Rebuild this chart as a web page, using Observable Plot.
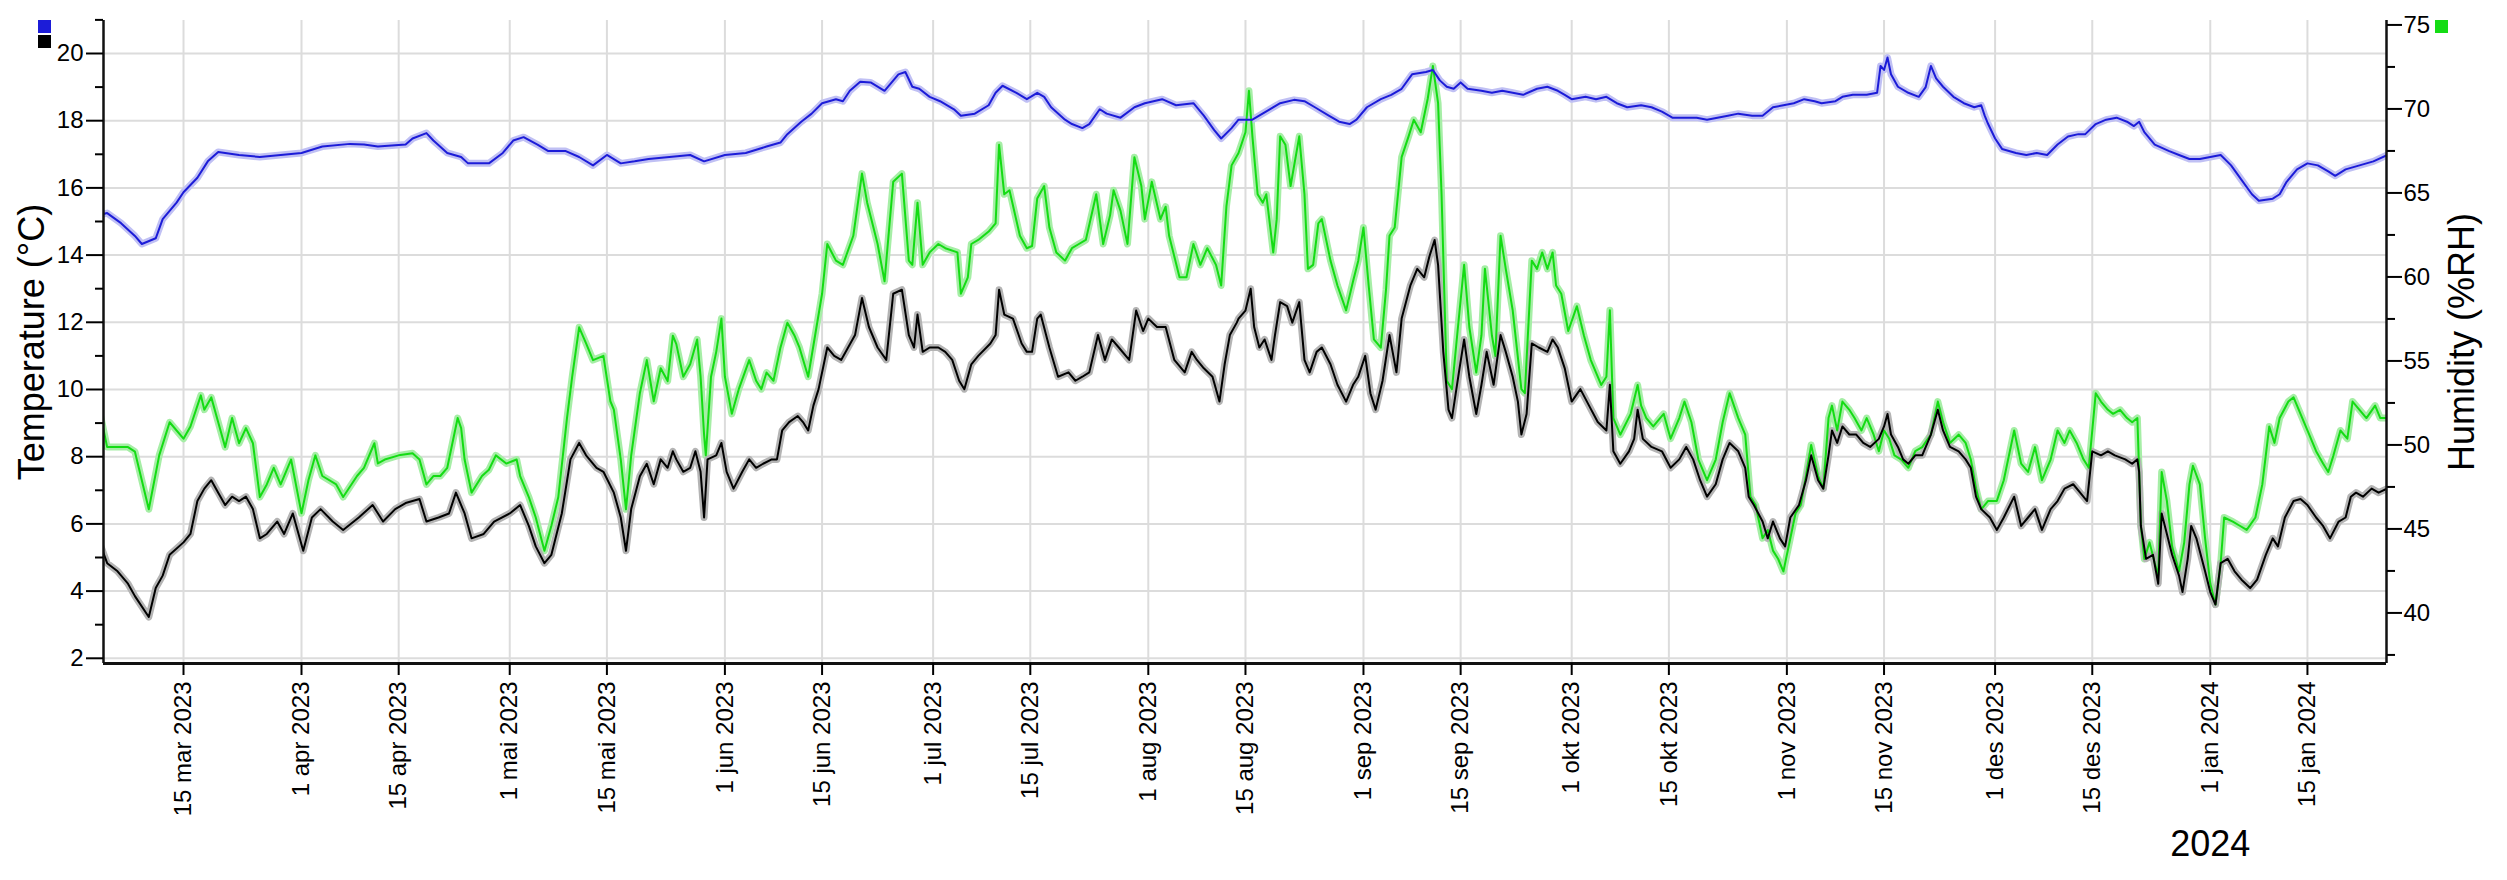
<!DOCTYPE html>
<html>
<head>
<meta charset="utf-8">
<script src="https://cdn.jsdelivr.net/npm/d3@7"></script>
<script src="https://cdn.jsdelivr.net/npm/@observablehq/plot@0.6"></script>
<style>
  html, body { margin: 0; padding: 0; background: #fff; overflow: hidden; }
  #wrap { position: relative; width: 2507px; height: 880px; }
  .sq { position: absolute; width: 13px; height: 13px; }
</style>
</head>
<body>
<div id="wrap"></div>
<script>
// ---------- data ----------
const monthNames = ["jan","feb","mar","apr","mai","jun","jul","aug","sep","okt","nov","des"];
const xTickDates = ["2023-03-15","2023-04-01","2023-04-15","2023-05-01","2023-05-15","2023-06-01","2023-06-15","2023-07-01","2023-07-15","2023-08-01","2023-08-15","2023-09-01","2023-09-15","2023-10-01","2023-10-15","2023-11-01","2023-11-15","2023-12-01","2023-12-15","2024-01-01","2024-01-15"];
const yearLabel = {date: "2024-01-01", label: "2024"};
const tempTicks = [2,4,6,8,10,12,14,16,18,20];
const tempMinorTicks = [3,5,7,9,11,13,15,17,19,21];
const rhTicks = [40,45,50,55,60,65,70,75];
const rhMinorTicks = [37.5,42.5,47.5,52.5,57.5,62.5,67.5,72.5];

// blue temperature series (°C)
const tempBlue = [
["2023-03-03",15.2],["2023-03-04",15.25],["2023-03-06",14.95],["2023-03-08",14.57],["2023-03-09",14.33],["2023-03-11",14.5],["2023-03-12",15.07],["2023-03-14",15.56],["2023-03-15",15.87],["2023-03-17",16.3],["2023-03-18 12",16.79],["2023-03-20",17.07],["2023-03-23",16.98],["2023-03-26",16.92],["2023-03-29",16.98],
["2023-04-01",17.04],["2023-04-04",17.23],["2023-04-08",17.31],["2023-04-10",17.29],["2023-04-12",17.23],["2023-04-16",17.29],["2023-04-17",17.47],["2023-04-19",17.63],["2023-04-20",17.41],["2023-04-22",17.04],["2023-04-24",16.92],["2023-04-25",16.73],["2023-04-28",16.73],["2023-04-30",17.04],
["2023-05-01 12",17.41],["2023-05-03",17.51],["2023-05-05",17.29],["2023-05-06 12",17.1],["2023-05-09",17.1],["2023-05-11",16.92],["2023-05-13",16.67],["2023-05-15",16.98],["2023-05-17",16.73],["2023-05-19",16.79],["2023-05-21",16.86],["2023-05-24",16.92],["2023-05-27",16.98],["2023-05-29",16.79],
["2023-06-01",16.98],["2023-06-04",17.04],["2023-06-07",17.23],["2023-06-09",17.35],["2023-06-10",17.6],["2023-06-12",17.97],["2023-06-13 12",18.21],["2023-06-15",18.52],["2023-06-17",18.64],["2023-06-18",18.58],["2023-06-19",18.89],["2023-06-20 12",19.16],["2023-06-22",19.14],["2023-06-24",18.89],["2023-06-26",19.38],["2023-06-27",19.45],["2023-06-28",19.01],["2023-06-29",18.95],["2023-06-30 12",18.71],
["2023-07-02",18.58],["2023-07-04",18.34],["2023-07-05",18.15],["2023-07-07",18.21],["2023-07-09",18.46],["2023-07-10",18.83],["2023-07-11",19.04],["2023-07-13",18.83],["2023-07-14 12",18.64],["2023-07-16",18.83],["2023-07-17",18.71],["2023-07-18",18.4],["2023-07-20",18.03],["2023-07-21",17.9],["2023-07-22 12",17.78],["2023-07-23 12",17.9],["2023-07-25",18.34],["2023-07-26",18.21],["2023-07-28",18.09],["2023-07-30",18.4],["2023-07-31 12",18.52],
["2023-08-03",18.64],["2023-08-05",18.46],["2023-08-07 12",18.52],["2023-08-09",18.15],["2023-08-10 12",17.72],["2023-08-11 12",17.47],["2023-08-13",17.78],["2023-08-14",18.03],["2023-08-16",18.03],["2023-08-18 12",18.34],["2023-08-20",18.52],["2023-08-22",18.62],["2023-08-23 12",18.58],["2023-08-25",18.4],["2023-08-27",18.15],["2023-08-28 12",17.97],["2023-08-30",17.9],["2023-08-31",18.03],
["2023-09-01 12",18.4],["2023-09-03 12",18.64],["2023-09-05",18.77],["2023-09-06 12",18.95],["2023-09-08",19.38],["2023-09-10",19.45],["2023-09-11",19.51],["2023-09-12",19.2],["2023-09-13",19.01],["2023-09-14",18.95],["2023-09-15",19.14],["2023-09-16",18.95],["2023-09-18",18.89],["2023-09-19 12",18.83],["2023-09-21",18.89],["2023-09-22 12",18.83],["2023-09-24",18.77],["2023-09-26",18.95],["2023-09-27 12",19.01],["2023-09-29",18.89],["2023-09-30",18.77],
["2023-10-01",18.64],["2023-10-03",18.71],["2023-10-04 12",18.64],["2023-10-06",18.71],["2023-10-07 12",18.52],["2023-10-09",18.4],["2023-10-11",18.46],["2023-10-12 12",18.4],["2023-10-14",18.27],["2023-10-15 12",18.09],["2023-10-17",18.09],["2023-10-19",18.09],["2023-10-20 12",18.03],["2023-10-22",18.09],["2023-10-23 12",18.15],["2023-10-25",18.21],["2023-10-27",18.15],["2023-10-28 12",18.15],["2023-10-30",18.4],["2023-10-31 12",18.46],
["2023-11-02",18.52],["2023-11-03 12",18.64],["2023-11-05",18.58],["2023-11-06",18.52],["2023-11-08",18.58],["2023-11-09",18.71],["2023-11-10 12",18.77],["2023-11-12 12",18.77],["2023-11-14",18.83],["2023-11-14 12",19.63],["2023-11-15",19.51],["2023-11-15 12",19.88],["2023-11-16",19.38],["2023-11-17",19.01],["2023-11-18 12",18.83],["2023-11-20",18.71],["2023-11-21",19.0],["2023-11-21 18",19.63],["2023-11-22 12",19.26],["2023-11-23 12",19.01],["2023-11-25",18.71],["2023-11-26 12",18.52],["2023-11-28",18.4],["2023-11-29",18.46],["2023-11-29 12",18.15],["2023-11-30",17.9],
["2023-12-01",17.47],["2023-12-02",17.16],["2023-12-04",17.04],["2023-12-05 12",16.98],["2023-12-07",17.04],["2023-12-08 12",16.98],["2023-12-10",17.29],["2023-12-11 12",17.53],["2023-12-13",17.6],["2023-12-14",17.6],["2023-12-15 12",17.9],["2023-12-17",18.03],["2023-12-18 12",18.09],["2023-12-20",17.97],["2023-12-21",17.84],["2023-12-21 18",17.97],["2023-12-22 12",17.66],["2023-12-24",17.29],["2023-12-26",17.1],["2023-12-27 12",16.98],["2023-12-29",16.86],["2023-12-30 12",16.86],
["2024-01-01",16.92],["2024-01-02 12",16.98],["2024-01-04",16.67],["2024-01-05 12",16.24],["2024-01-07",15.81],["2024-01-08",15.62],["2024-01-10",15.68],["2024-01-11",15.81],["2024-01-12",16.18],["2024-01-13 12",16.55],["2024-01-15",16.73],["2024-01-16 12",16.67],["2024-01-18",16.49],["2024-01-19",16.36],["2024-01-20 12",16.55],["2024-01-22 12",16.67],["2024-01-24 12",16.79],["2024-01-26 12",16.98]
];

// black temperature series (°C)
const tempBlack = [
["2023-03-03",5.39],["2023-03-04",4.83],["2023-03-05 12",4.59],["2023-03-07",4.22],["2023-03-08",3.85],["2023-03-10",3.23],["2023-03-11",4.09],["2023-03-12",4.46],["2023-03-13",5.08],["2023-03-15",5.45],["2023-03-16",5.7],["2023-03-17",6.68],["2023-03-18",7.05],["2023-03-19",7.3],["2023-03-20",6.93],["2023-03-21",6.56],["2023-03-22",6.81],["2023-03-23",6.68],["2023-03-24",6.81],["2023-03-25",6.44],["2023-03-26",5.57],["2023-03-27",5.7],["2023-03-28 12",6.07],["2023-03-29 12",5.7],["2023-03-30 18",6.31],
["2023-04-01 06",5.2],["2023-04-02 12",6.19],["2023-04-03 18",6.44],["2023-04-05 12",6.07],["2023-04-07",5.82],["2023-04-09 06",6.19],["2023-04-11 06",6.56],["2023-04-12 18",6.07],["2023-04-14 12",6.44],["2023-04-16",6.62],["2023-04-18",6.74],["2023-04-19",6.07],["2023-04-20 18",6.19],["2023-04-22 06",6.31],["2023-04-23 06",6.93],["2023-04-24 12",6.31],["2023-04-25 12",5.57],["2023-04-27 06",5.7],["2023-04-28 18",6.07],
["2023-05-01",6.31],["2023-05-02 12",6.56],["2023-05-03 18",5.94],["2023-05-04 18",5.33],["2023-05-06",4.83],["2023-05-07",5.08],["2023-05-08 12",6.31],["2023-05-09 18",7.92],["2023-05-11",8.41],["2023-05-12",8.04],["2023-05-13 12",7.67],["2023-05-14 12",7.55],["2023-05-16",6.93],["2023-05-17",6.19],["2023-05-17 18",5.2],["2023-05-18 12",6.44],["2023-05-19 18",7.42],["2023-05-20 18",7.79],["2023-05-21 18",7.18],["2023-05-22 18",7.92],["2023-05-23 18",7.67],["2023-05-24 12",8.16],["2023-05-25",7.92],["2023-05-26",7.55],["2023-05-27",7.67],["2023-05-27 18",8.16],["2023-05-28 12",7.55],["2023-05-29",6.19],["2023-05-29 12",7.92],["2023-05-30 18",8.04],["2023-05-31 12",8.41],
["2023-06-01 06",7.55],["2023-06-02 06",7.05],["2023-06-03 12",7.55],["2023-06-04 12",7.92],["2023-06-05 12",7.67],["2023-06-06 12",7.79],["2023-06-07 18",7.92],["2023-06-08 12",7.92],["2023-06-09 06",8.78],["2023-06-10 06",9.03],["2023-06-11 12",9.21],["2023-06-12 06",9.03],["2023-06-13",8.78],["2023-06-13 18",9.52],["2023-06-14 12",10.01],["2023-06-15 18",11.25],["2023-06-16 18",11.0],["2023-06-17 18",10.88],["2023-06-18 18",11.25],["2023-06-19 18",11.62],["2023-06-20 18",12.72],["2023-06-21 18",11.86],["2023-06-23",11.25],["2023-06-24 06",10.88],["2023-06-25 06",12.85],["2023-06-26 12",12.97],["2023-06-27 12",11.62],["2023-06-28 06",11.25],["2023-06-28 18",12.23],["2023-06-29 12",11.12],["2023-06-30 12",11.25],
["2023-07-01 18",11.25],["2023-07-02 18",11.12],["2023-07-03 18",10.88],["2023-07-04 18",10.26],["2023-07-05 12",10.01],["2023-07-06 12",10.75],["2023-07-07 12",11.0],["2023-07-09 06",11.37],["2023-07-10",11.62],["2023-07-10 12",12.97],["2023-07-11 06",12.23],["2023-07-12 12",12.11],["2023-07-13 18",11.37],["2023-07-14 12",11.12],["2023-07-15 06",11.12],["2023-07-16",12.11],["2023-07-16 12",12.23],["2023-07-17 18",11.25],["2023-07-19",10.38],["2023-07-20 12",10.51],["2023-07-21 12",10.26],["2023-07-22 12",10.38],["2023-07-23 12",10.51],["2023-07-24 18",11.62],["2023-07-25 18",10.88],["2023-07-26 18",11.49],["2023-07-27 18",11.25],["2023-07-29 06",10.88],["2023-07-30 06",12.35],["2023-07-31 06",11.74],
["2023-08-01",12.11],["2023-08-02 06",11.86],["2023-08-03 12",11.86],["2023-08-04 18",10.88],["2023-08-06 06",10.51],["2023-08-07 06",11.12],["2023-08-08",10.88],["2023-08-09",10.63],["2023-08-10 06",10.38],["2023-08-11 06",9.64],["2023-08-12",10.75],["2023-08-12 18",11.62],["2023-08-13 18",11.99],["2023-08-14",12.11],["2023-08-15",12.35],["2023-08-15 18",13.0],["2023-08-16 06",11.86],["2023-08-17",11.25],["2023-08-17 18",11.49],["2023-08-18 18",10.88],["2023-08-19 06",11.62],["2023-08-20",12.6],["2023-08-21",12.48],["2023-08-21 18",11.99],["2023-08-22 18",12.6],["2023-08-23 12",10.88],["2023-08-24 06",10.51],["2023-08-25 06",11.12],["2023-08-26",11.25],["2023-08-27 06",10.75],["2023-08-28 06",10.14],["2023-08-29 12",9.64],["2023-08-30 12",10.14],["2023-08-31 06",10.38],
["2023-09-01 06",11.0],["2023-09-02",9.89],["2023-09-02 18",9.4],["2023-09-03 18",10.26],["2023-09-04 18",11.62],["2023-09-05 18",10.51],["2023-09-06 12",12.11],["2023-09-07 18",13.09],["2023-09-08 18",13.59],["2023-09-09 18",13.34],["2023-09-10 12",13.96],["2023-09-11 06",14.45],["2023-09-11 18",13.71],["2023-09-12 12",11.12],["2023-09-13 06",9.4],["2023-09-13 18",9.15],["2023-09-14 18",10.51],["2023-09-15 12",11.49],["2023-09-16 06",10.38],["2023-09-17 06",9.27],["2023-09-18",10.14],["2023-09-18 18",11.12],["2023-09-19 18",10.14],["2023-09-20 18",11.62],["2023-09-21 12",11.12],["2023-09-22 12",10.38],["2023-09-23 06",9.64],["2023-09-23 18",8.66],["2023-09-24 12",9.27],["2023-09-25 06",11.37],["2023-09-26 06",11.25],["2023-09-27 12",11.12],["2023-09-28 06",11.49],["2023-09-29",11.25],["2023-09-30",10.63],
["2023-10-01",9.64],["2023-10-02 06",10.01],["2023-10-03 12",9.52],["2023-10-04 18",9.03],["2023-10-06",8.78],["2023-10-06 12",10.14],["2023-10-07",8.16],["2023-10-08",7.79],["2023-10-09 06",8.16],["2023-10-10",8.53],["2023-10-10 12",9.4],["2023-10-11 06",8.53],["2023-10-12 12",8.29],["2023-10-14",8.16],["2023-10-15 06",7.67],["2023-10-16 12",7.92],["2023-10-17 12",8.29],["2023-10-18 12",7.92],["2023-10-19 12",7.3],["2023-10-20 12",6.81],["2023-10-21 18",7.18],["2023-10-22 18",7.92],["2023-10-23 18",8.41],["2023-10-25",8.16],["2023-10-26",7.67],["2023-10-26 12",6.81],["2023-10-27 06",6.56],["2023-10-28 12",6.07],["2023-10-29 06",5.57],["2023-10-30",6.07],["2023-10-31",5.57],["2023-10-31 18",5.33],
["2023-11-01 12",6.19],["2023-11-02 18",6.56],["2023-11-03 18",7.3],["2023-11-04 12",8.04],["2023-11-05 12",7.3],["2023-11-06 06",7.05],["2023-11-07",8.04],["2023-11-07 12",8.78],["2023-11-08 06",8.41],["2023-11-09",8.9],["2023-11-10",8.66],["2023-11-11",8.66],["2023-11-12",8.41],["2023-11-13",8.29],["2023-11-14 06",8.53],["2023-11-15",8.9],["2023-11-15 12",9.27],["2023-11-16",8.66],["2023-11-17",8.29],["2023-11-17 18",7.92],["2023-11-18 12",7.79],["2023-11-19 12",8.04],["2023-11-20 12",8.04],["2023-11-21 18",8.66],["2023-11-22 18",9.4],["2023-11-23 12",8.78],["2023-11-24 12",8.29],["2023-11-25 18",8.16],["2023-11-26 18",7.92],["2023-11-27 12",7.67],["2023-11-28 06",6.81],["2023-11-29",6.44],["2023-11-30 06",6.19],
["2023-12-01 06",5.82],["2023-12-02 06",6.19],["2023-12-03 18",6.81],["2023-12-04 18",5.94],["2023-12-05 18",6.19],["2023-12-06 18",6.44],["2023-12-07 18",5.82],["2023-12-09",6.44],["2023-12-10",6.68],["2023-12-11",7.05],["2023-12-12 06",7.18],["2023-12-13 06",6.93],["2023-12-14 06",6.68],["2023-12-15",8.16],["2023-12-16 06",8.04],["2023-12-17 06",8.16],["2023-12-18 06",8.04],["2023-12-19 18",7.92],["2023-12-20 18",7.79],["2023-12-21 12",7.92],["2023-12-21 18",7.55],["2023-12-22",5.94],["2023-12-22 18",4.96],["2023-12-23 18",5.08],["2023-12-24 12",4.22],["2023-12-25",6.31],["2023-12-25 18",5.7],["2023-12-26 12",5.08],["2023-12-27 12",4.46],["2023-12-28",3.97],["2023-12-28 18",4.96],["2023-12-29 06",5.94],["2023-12-30",5.57],["2023-12-31 06",4.59],
["2024-01-01",3.97],["2024-01-01 18",3.6],["2024-01-02 12",4.83],["2024-01-03 12",4.96],["2024-01-04 12",4.59],["2024-01-05 12",4.34],["2024-01-06 18",4.09],["2024-01-07 18",4.34],["2024-01-09",5.08],["2024-01-10",5.57],["2024-01-10 18",5.33],["2024-01-11 18",6.19],["2024-01-13",6.68],["2024-01-14",6.74],["2024-01-15",6.56],["2024-01-16 06",6.19],["2024-01-17 06",5.94],["2024-01-18 06",5.57],["2024-01-19 12",6.07],["2024-01-20 12",6.19],["2024-01-21 06",6.81],["2024-01-22",6.93],["2024-01-23",6.81],["2024-01-24 06",7.05],["2024-01-25 06",6.93],["2024-01-26 12",7.05]
];

// green humidity series (%RH)
const humidity = [
["2023-03-03",51.85],["2023-03-04",49.87],["2023-03-07",49.87],["2023-03-08",49.6],["2023-03-10",46.17],["2023-03-11 12",49.38],["2023-03-13",51.35],["2023-03-15",50.37],["2023-03-16",51.1],["2023-03-17 12",52.95],["2023-03-18",52.1],["2023-03-19",52.83],["2023-03-20",51.35],["2023-03-21",49.87],["2023-03-22",51.6],["2023-03-23",50.1],["2023-03-24",51.0],["2023-03-25",50.1],["2023-03-26",46.9],["2023-03-27",47.65],["2023-03-28",48.64],["2023-03-29",47.65],["2023-03-30 12",49.13],
["2023-04-01",45.93],["2023-04-02",47.9],["2023-04-03",49.38],["2023-04-04",48.15],["2023-04-06",47.65],["2023-04-07",46.9],["2023-04-09",48.15],["2023-04-10",48.64],["2023-04-11 12",50.1],["2023-04-12",48.9],["2023-04-13",49.13],["2023-04-15",49.38],["2023-04-17",49.5],["2023-04-18",49.13],["2023-04-19",47.65],["2023-04-20",48.15],["2023-04-21",48.15],["2023-04-22",48.64],["2023-04-23 12",51.6],["2023-04-24",51.0],["2023-04-24 12",49.13],["2023-04-25 12",47.16],["2023-04-27",48.15],["2023-04-28",48.52],["2023-04-29",49.38],["2023-04-30 12",48.89],
["2023-05-02",49.13],["2023-05-02 12",48.15],["2023-05-03 18",46.9],["2023-05-04 18",45.68],["2023-05-06",43.7],["2023-05-07",45.19],["2023-05-08",46.9],["2023-05-09 06",51.6],["2023-05-10",54.06],["2023-05-11",57.0],["2023-05-12",56.04],["2023-05-13",55.05],["2023-05-14 12",55.3],["2023-05-15 12",52.6],["2023-05-16",52.1],["2023-05-17",49.13],["2023-05-17 18",46.17],["2023-05-18 12",49.38],["2023-05-19 18",53.08],["2023-05-20 18",55.05],["2023-05-21 18",52.6],["2023-05-22 18",54.56],["2023-05-23 18",53.8],["2023-05-24 12",56.5],["2023-05-25",56.0],["2023-05-26",54.06],["2023-05-27",54.8],["2023-05-28",56.28],["2023-05-28 12",54.06],["2023-05-29",50.61],["2023-05-29 06",49.38],["2023-05-30",54.06],["2023-05-30 18",55.54],["2023-05-31 12",57.52],
["2023-06-01",54.06],["2023-06-02",51.85],["2023-06-03",53.32],["2023-06-04 12",55.05],["2023-06-05 12",53.82],["2023-06-06 06",53.32],["2023-06-07",54.31],["2023-06-08",53.82],["2023-06-09",55.79],["2023-06-10",57.27],["2023-06-11",56.53],["2023-06-11 18",55.79],["2023-06-13",54.06],["2023-06-14",56.53],["2023-06-15",59.0],["2023-06-15 18",61.96],["2023-06-17",60.97],["2023-06-18",60.72],["2023-06-19 12",62.45],["2023-06-20 18",66.15],["2023-06-21 12",64.42],["2023-06-23",61.96],["2023-06-24",59.74],["2023-06-25 06",65.66],["2023-06-26 12",66.15],["2023-06-27 12",60.97],["2023-06-28",60.72],["2023-06-28 18",64.42],["2023-06-29 12",60.72],["2023-06-30 12",61.46],
["2023-07-01 18",61.96],["2023-07-02 18",61.71],["2023-07-04 12",61.46],["2023-07-05",59.0],["2023-07-06",59.98],["2023-07-06 12",61.96],["2023-07-07 12",62.2],["2023-07-09",62.7],["2023-07-10",63.19],["2023-07-10 12",67.87],["2023-07-11 06",64.92],["2023-07-12",65.16],["2023-07-13 12",62.45],["2023-07-14 12",61.71],["2023-07-15 06",61.84],["2023-07-16",64.67],["2023-07-17",65.41],["2023-07-17 18",62.94],["2023-07-18 18",61.46],["2023-07-20",60.97],["2023-07-21",61.71],["2023-07-22",61.96],["2023-07-23",62.2],["2023-07-24 12",64.92],["2023-07-25 12",61.96],["2023-07-26 12",63.68],["2023-07-27",65.16],["2023-07-28",63.93],["2023-07-29",61.96],["2023-07-30",67.13],["2023-07-31",65.41],["2023-07-31 12",63.44],
["2023-08-01 12",65.66],["2023-08-02 18",63.44],["2023-08-03 12",64.18],["2023-08-04",62.45],["2023-08-05 12",59.98],["2023-08-06 12",59.98],["2023-08-07 12",61.96],["2023-08-08 12",60.72],["2023-08-09 12",61.71],["2023-08-10 18",60.72],["2023-08-11 12",59.49],["2023-08-12 06",64.18],["2023-08-13",66.64],["2023-08-14",67.38],["2023-08-15",68.61],["2023-08-15 12",71.08],["2023-08-16",68.37],["2023-08-16 18",64.92],["2023-08-17 12",64.42],["2023-08-18",64.92],["2023-08-19",61.46],["2023-08-19 12",63.44],["2023-08-20",68.37],["2023-08-20 18",67.87],["2023-08-21 12",65.41],["2023-08-22 18",68.37],["2023-08-23 12",64.92],["2023-08-24",60.48],["2023-08-24 18",60.72],["2023-08-25 12",63.19],["2023-08-26",63.44],["2023-08-27 06",60.97],["2023-08-28 06",59.49],["2023-08-29 12",58.01],["2023-08-30 12",59.74],["2023-08-31 06",60.97],
["2023-09-01",62.94],["2023-09-01 18",59.49],["2023-09-02 12",56.28],["2023-09-03 12",55.79],["2023-09-04 06",59.24],["2023-09-04 18",62.45],["2023-09-05 12",62.94],["2023-09-06 12",67.13],["2023-09-07 12",68.37],["2023-09-08 06",69.35],["2023-09-09 06",68.61],["2023-09-10 06",70.59],["2023-09-11",72.56],["2023-09-11 18",70.34],["2023-09-12 06",64.92],["2023-09-13",53.82],["2023-09-13 18",53.32],["2023-09-14 12",56.53],["2023-09-15 12",60.72],["2023-09-16 06",57.02],["2023-09-17 06",54.31],["2023-09-18",56.53],["2023-09-18 12",60.48],["2023-09-19 12",56.53],["2023-09-20",55.3],["2023-09-20 18",62.45],["2023-09-21 12",60.48],["2023-09-22 12",58.01],["2023-09-23 18",53.32],["2023-09-24 06",53.08],["2023-09-25 06",60.97],["2023-09-26",60.48],["2023-09-26 18",61.46],["2023-09-27 12",60.48],["2023-09-28 06",61.46],["2023-09-28 18",59.49],["2023-09-29 12",59.0],["2023-09-30 12",56.78],
["2023-10-01 18",58.26],["2023-10-02 18",56.53],["2023-10-03 18",55.05],["2023-10-05 06",53.57],["2023-10-06",54.06],["2023-10-06 12",58.01],["2023-10-07",51.6],["2023-10-08",50.61],["2023-10-09 12",51.85],["2023-10-10 12",53.57],["2023-10-11",52.34],["2023-10-11 18",51.6],["2023-10-12 18",51.1],["2023-10-14 06",51.85],["2023-10-15 06",50.37],["2023-10-16 12",51.6],["2023-10-17 06",52.58],["2023-10-18 06",51.35],["2023-10-19 06",49.13],["2023-10-20 12",47.9],["2023-10-21 18",49.13],["2023-10-22 18",51.35],["2023-10-23 18",53.08],["2023-10-25",51.6],["2023-10-26",50.61],["2023-10-26 18",46.91],["2023-10-27 12",46.42],["2023-10-28 12",44.45],["2023-10-29 06",44.94],["2023-10-30",43.71],["2023-10-30 18",43.21],["2023-10-31 12",42.47],
["2023-11-01 12",44.45],["2023-11-02 06",45.93],["2023-11-03",46.42],["2023-11-03 18",48.15],["2023-11-04 12",50.0],["2023-11-05 12",48.15],["2023-11-06 06",47.41],["2023-11-07",51.6],["2023-11-07 12",52.34],["2023-11-08 06",50.86],["2023-11-09",52.58],["2023-11-10",52.09],["2023-11-10 18",51.6],["2023-11-11 18",50.86],["2023-11-12 12",51.6],["2023-11-13 12",50.61],["2023-11-14 06",49.63],["2023-11-15",50.86],["2023-11-15 18",50.37],["2023-11-16 12",49.38],["2023-11-17 12",49.13],["2023-11-18 12",48.64],["2023-11-19 12",49.63],["2023-11-20 12",49.87],["2023-11-21 18",50.61],["2023-11-22 18",52.58],["2023-11-23 12",51.35],["2023-11-24 12",50.12],["2023-11-25 18",50.61],["2023-11-26 18",50.12],["2023-11-27 12",49.13],["2023-11-28 06",47.41],["2023-11-29",46.17],["2023-11-30",46.67],
["2023-12-01 06",46.67],["2023-12-02 06",47.9],["2023-12-03 18",50.86],["2023-12-04 18",48.89],["2023-12-05 18",48.39],["2023-12-06 18",49.87],["2023-12-07 18",47.9],["2023-12-09",49.13],["2023-12-10",50.86],["2023-12-11",50.12],["2023-12-11 18",50.86],["2023-12-12 18",50.12],["2023-12-13 18",49.13],["2023-12-14 12",48.64],["2023-12-15 12",53.08],["2023-12-16 06",52.58],["2023-12-17 06",52.09],["2023-12-18",51.85],["2023-12-19",52.09],["2023-12-20",51.6],["2023-12-20 18",51.35],["2023-12-21 12",51.6],["2023-12-22",45.19],["2023-12-22 12",43.21],["2023-12-23 06",44.2],["2023-12-24",42.97],["2023-12-24 12",42.23],["2023-12-25",48.39],["2023-12-25 18",46.67],["2023-12-26 12",43.95],["2023-12-27 12",42.47],["2023-12-28 06",44.2],["2023-12-29",47.65],["2023-12-29 12",48.76],["2023-12-30 12",47.65],["2023-12-31 06",44.45],
["2024-01-01",41.73],["2024-01-01 18",40.5],["2024-01-02 12",42.97],["2024-01-03",45.68],["2024-01-04 06",45.43],["2024-01-05 06",45.19],["2024-01-06 06",44.94],["2024-01-07 12",45.68],["2024-01-08 12",47.65],["2024-01-09 12",51.1],["2024-01-10 06",50.12],["2024-01-11",51.6],["2024-01-12 06",52.58],["2024-01-13",52.83],["2024-01-14",51.85],["2024-01-15",50.86],["2024-01-16 06",49.63],["2024-01-17 06",48.89],["2024-01-18",48.39],["2024-01-18 18",49.38],["2024-01-19 18",50.86],["2024-01-20 18",50.37],["2024-01-21 12",52.58],["2024-01-22 12",52.09],["2024-01-23 12",51.6],["2024-01-24 18",52.34],["2024-01-25 12",51.6],["2024-01-26 12",51.6]
];

// ---------- helpers ----------
const parseDate = s => { const [d, h] = s.split(" "); return new Date(`${d}T${h ?? "00"}:00:00Z`); };
const rhToT = rh => (rh - 33.3) / 2;   // humidity axis mapped onto temperature axis
const tToRh = t => t * 2 + 33.3;
const fmtDate = d => `${d.getUTCDate()} ${monthNames[d.getUTCMonth()]} ${d.getUTCFullYear()}`;

const blueRows = tempBlue.map(([d, v]) => ({date: parseDate(d), value: v}));
const blackRows = tempBlack.map(([d, v]) => ({date: parseDate(d), value: v}));
const greenRows = humidity.map(([d, v]) => ({date: parseDate(d), value: rhToT(v)}));
const xTicks = xTickDates.map(parseDate);

const xStart = new Date("2023-03-03T11:22:00Z");
const xEnd = new Date("2024-01-26T09:22:00Z");
const yMin = 1.845, yMax = 20.982;

const FONT = "'Liberation Sans', Arial, Helvetica, sans-serif";
const gridStyle = {stroke: "#dcdcdc", strokeOpacity: 1, strokeWidth: 2};

const chart = Plot.plot({
  width: 2507,
  height: 880,
  marginTop: 20,
  marginBottom: 217,
  marginLeft: 103,
  marginRight: 121,
  style: {fontFamily: FONT, fontSize: "24px", color: "#000", background: "#fff", overflow: "visible"},
  x: {type: "utc", domain: [xStart, xEnd]},
  y: {domain: [yMin, yMax]},
  marks: [
    Plot.gridY(tempTicks, gridStyle),
    Plot.gridX(xTicks, gridStyle),
    // light envelopes
    Plot.line(greenRows, {x: "date", y: "value", stroke: "#a6eea6", strokeWidth: 7, clip: true}),
    Plot.line(blackRows, {x: "date", y: "value", stroke: "#b4b4b4", strokeWidth: 7, clip: true}),
    Plot.line(blueRows, {x: "date", y: "value", stroke: "#c0c0f4", strokeWidth: 7, clip: true}),
    // main lines
    Plot.line(greenRows, {x: "date", y: "value", stroke: "#14dc14", strokeWidth: 2, clip: true}),
    Plot.line(blackRows, {x: "date", y: "value", stroke: "#000000", strokeWidth: 2, clip: true}),
    Plot.line(blueRows, {x: "date", y: "value", stroke: "#1c1cd8", strokeWidth: 2, clip: true}),
    // frame lines
    Plot.ruleX([xStart, xEnd], {stroke: "#111", strokeWidth: 2.5}),
    Plot.ruleY([yMin], {stroke: "#111", strokeWidth: 3}),
    // left axis
    Plot.axisY(tempTicks, {anchor: "left", tickSize: 17, tickPadding: 3, label: null, fontSize: 24, strokeWidth: 2}),
    Plot.axisY(tempMinorTicks, {anchor: "left", tickSize: 8, tickFormat: () => "", label: null, strokeWidth: 2}),
    // right axis (humidity)
    Plot.axisY(rhTicks.map(rhToT), {anchor: "right", tickSize: 15, tickPadding: 2, label: null, fontSize: 24, strokeWidth: 2, tickFormat: t => String(Math.round(tToRh(t)))}),
    Plot.axisY(rhMinorTicks.map(rhToT), {anchor: "right", tickSize: 8, tickFormat: () => "", label: null, strokeWidth: 2}),
    // bottom axis
    Plot.axisX(xTicks, {anchor: "bottom", tickSize: 12, tickPadding: 6, tickRotate: -90, tickFormat: fmtDate, label: null, fontSize: 24, strokeWidth: 2}),
    Plot.text([yearLabel], {x: d => parseDate(d.date), text: d => d.label, frameAnchor: "bottom", textAnchor: "middle", dy: 192, fontSize: 36}),
    // axis titles
    Plot.text(["Temperature (°C)"], {text: d => d, frameAnchor: "left", textAnchor: "middle", dx: -71, rotate: -90, fontSize: 36}),
    Plot.text(["Humidity (%RH)"], {text: d => d, frameAnchor: "right", textAnchor: "middle", dx: 76, rotate: -90, fontSize: 36})
  ]
});

const wrap = document.getElementById("wrap");
wrap.appendChild(chart);

// small series markers next to each axis
const markers = [
  {left: 38, top: 20, color: "#1c1cd8"},
  {left: 38, top: 35, color: "#000000"},
  {left: 2435, top: 20, color: "#14dc14"}
];
for (const m of markers) {
  const el = document.createElement("div");
  el.className = "sq";
  el.style.left = m.left + "px";
  el.style.top = m.top + "px";
  el.style.background = m.color;
  wrap.appendChild(el);
}
</script>
</body>
</html>
